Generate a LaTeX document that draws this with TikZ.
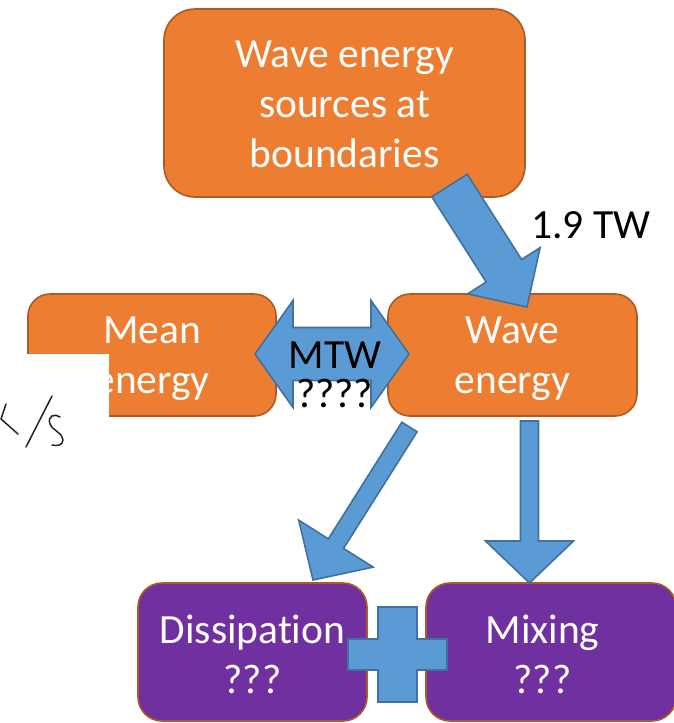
\documentclass[tikz,border=0pt]{standalone}
\usepackage{fontspec}
\newfontfamily\calib{Carlito}[Ligatures=NoCommon]
\usetikzlibrary{calc}
\definecolor{boxorange}{HTML}{ED7D31}
\definecolor{boxedge}{HTML}{AE5A21}
\definecolor{boxpurple}{HTML}{7030A0}
\definecolor{arrowblue}{HTML}{5B9BD5}
\definecolor{arrowedge}{HTML}{41719C}
\definecolor{ink}{HTML}{222222}

% block arrow from #1 to tip #2: shaft width #3, head width #4, head length #5
\newcommand\blockarrow[5]{%
  \coordinate (ba-base) at ($(#2)!#5!(#1)$);
  \draw[blockarrow]
    ($(#1)!#3/2!90:(#2)$) -- ($(ba-base)!#3/2!-90:(#1)$) --
    ($(ba-base)!#4/2!-90:(#1)$) -- (#2) --
    ($(ba-base)!#4/2!90:(#1)$) -- ($(ba-base)!#3/2!90:(#1)$) --
    ($(#1)!#3/2!-90:(#2)$) -- cycle;
}

\begin{document}
\begin{tikzpicture}[x=1pt,y=-1pt,
  stage/.style={rectangle, rounded corners=22pt, fill=boxorange, draw=boxedge,
    line width=1.6pt, text=white, font=\calib\fontsize{41.5}{50}\selectfont,
    align=center, inner sep=0pt, text depth=0pt},
  sink/.style={stage, fill=boxpurple, rounded corners=24pt},
  sinktext/.style={text=white, font=\calib\fontsize{41.5}{50}\selectfont,
    align=center, inner sep=0pt, text height=82pt, text depth=0pt},
  flowtext/.style={font=\calib\fontsize{41.5}{50}\selectfont, text=black, inner sep=0pt},
  blockarrow/.style={fill=arrowblue, draw=arrowedge, line width=1.6pt, line join=miter},
  hand/.style={draw=ink, line width=1.5pt, line cap=round, line join=round}]

\useasboundingbox (0,0) rectangle (674,723);
\clip (0,0) rectangle (674,723);

% energy reservoirs
\node[stage, minimum width=361pt, minimum height=188pt, rounded corners=31pt,
  text height=128pt] (src) at (344.5,103) {Wave energy\\sources at\\boundaries};
\node[stage, minimum width=248pt, minimum height=122pt, text height=76pt]
  (mean) at (152,355) {Mean\\energy};
\node[stage, minimum width=249pt, minimum height=122pt, text height=76pt]
  (wave) at (512.5,355) {Wave\\energy};

% sinks
\node[sink, minimum width=229pt, minimum height=138pt, text height=82pt]
  (diss) at (252.5,652) {Dissipation\\???};
\node[sink, minimum width=250pt, minimum height=138pt] (mix) at (551,652) {};
\node[sinktext] (mixtext) at (542.5,652) {Mixing\\???};

% blanked corner of the mean-energy box
\fill[white] (27,354) rectangle (109,417.5);

% transfers
\coordinate (srcout) at (449.5,185.5);
\coordinate (wavein) at (527,307);
\blockarrow{srcout}{wavein}{42pt}{86pt}{43pt}

\coordinate (wavedl) at (409.5,427);
\coordinate (dissin) at (313,580);
\blockarrow{wavedl}{dissin}{18pt}{88pt}{43pt}

\coordinate (wavedr) at (529.5,421);
\coordinate (mixin) at (529.5,583);
\blockarrow{wavedr}{mixin}{18pt}{88pt}{42pt}

% mean <-> wave exchange
\coordinate (meanend) at (255,354);
\coordinate (waveend) at (409,354);
\draw[blockarrow] (meanend) -- ($(meanend)+(38,-53.5)$) -- ($(meanend)+(38,-26.5)$)
  -- ($(waveend)+(-38,-26.5)$) -- ($(waveend)+(-38,-53.5)$) -- (waveend)
  -- ($(waveend)+(-38,53.5)$) -- ($(waveend)+(-38,26.5)$)
  -- ($(meanend)+(38,26.5)$) -- ($(meanend)+(38,53.5)$) -- cycle;

% plus between the sinks
\coordinate (plus) at (397.5,654.5);
\draw[blockarrow, shift={(plus)}] (-19.5,-47.5) -- (19.5,-47.5) -- (19.5,-15.5)
  -- (49.5,-15.5) -- (49.5,15.5) -- (19.5,15.5) -- (19.5,47.5) -- (-19.5,47.5)
  -- (-19.5,15.5) -- (-49.5,15.5) -- (-49.5,-15.5) -- (-19.5,-15.5) -- cycle;

% labels
\node[flowtext, anchor=base west] (tw) at (531,238) {1.9 TW};
\node[flowtext, anchor=base] (mtw) at (335,368) {MTW};
\node[flowtext, anchor=base] (mtwq) at (334.5,407) {????};

% handwritten units
\draw[hand] (6,404) -- (1,419) -- (18,434);
\draw[hand] (52,396) -- (26,447);
\draw[hand] (60,417) .. controls (55,413) and (47,416) .. (50,424)
  .. controls (53,431) and (63,433) .. (63,440)
  .. controls (63,446) and (56,446) .. (52,445);
\end{tikzpicture}
\end{document}
